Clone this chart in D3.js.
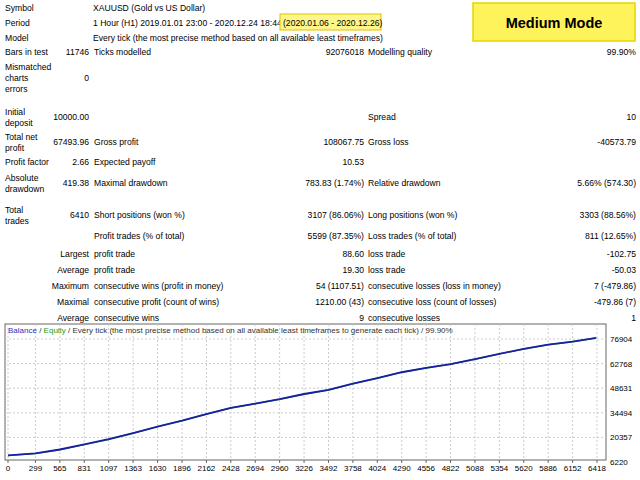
<!DOCTYPE html>
<html><head><meta charset="utf-8">
<script src="https://cdn.jsdelivr.net/npm/d3@7/dist/d3.min.js"></script>
<style>body{margin:0;background:#fff}text{font-family:"Liberation Sans",Arial,sans-serif;font-size:8.6px;fill:#000}</style>
</head><body><svg id="c" width="640" height="480"></svg>
<script>
// ---- data ----
const headerRows = [
  ["Symbol", "XAUUSD (Gold vs US Dollar)"],
  ["Period", "1 Hour (H1) 2019.01.01 23:00 - 2020.12.24 18:44 "],
  ["Model", "Every tick (the most precise method based on all available least timeframes)"]
];
const periodHighlight = "(2020.01.06 - 2020.12.26)";
const modeLabel = "Medium Mode";
// [label lines, value1, label2, value2, label3, value3]
const statRows = [
  [["Bars in test"], "11746", "Ticks modelled", "92076018", "Modelling quality", "99.90%"],
  [["Mismatched","charts","errors"], "0", "", "", "", ""],
  [["Initial","deposit"], "10000.00", "", "", "Spread", "10"],
  [["Total net","profit"], "67493.96", "Gross profit", "108067.75", "Gross loss", "-40573.79"],
  [["Profit factor"], "2.66", "Expected payoff", "10.53", "", ""],
  [["Absolute","drawdown"], "419.38", "Maximal drawdown", "783.83 (1.74%)", "Relative drawdown", "5.66% (574.30)"],
  [["Total","trades"], "6410", "Short positions (won %)", "3107 (86.06%)", "Long positions (won %)", "3303 (88.56%)"],
  [[""], "", "Profit trades (% of total)", "5599 (87.35%)", "Loss trades (% of total)", "811 (12.65%)"],
  [[""], "Largest", "profit trade", "88.60", "loss trade", "-102.75"],
  [[""], "Average", "profit trade", "19.30", "loss trade", "-50.03"],
  [[""], "Maximum", "consecutive wins (profit in money)", "54 (1107.51)", "consecutive losses (loss in money)", "7 (-479.86)"],
  [[""], "Maximal", "consecutive profit (count of wins)", "1210.00 (43)", "consecutive loss (count of losses)", "-479.86 (7)"],
  [[""], "Average", "consecutive wins", "9", "consecutive losses", "1"]
];
const rowCenters = [52, 78, 117, 142, 162, 183, 215, 236, 254, 270, 286, 302, 318];
const tradeIdx = [0,299,565,831,1097,1363,1630,1896,2162,2428,2694,2960,3226,3492,3758,4024,4290,4556,4822,5088,5354,5620,5886,6152,6410];
const balance  = [10000,11200,13400,16300,19300,22800,26600,30000,33800,37300,39800,42300,45300,47700,51200,54400,57800,60300,62500,65300,68400,71200,73700,75400,77494];
const equity   = [10000,11150,13300,16200,19200,22750,26550,29950,33750,37250,39750,42250,45100,47650,51150,54350,57750,60250,62450,65250,68350,71150,73650,75350,77494];
const xTicks = [0,299,565,831,1097,1363,1630,1896,2162,2428,2694,2960,3226,3492,3758,4024,4290,4556,4822,5088,5354,5620,5886,6152,6418];
const yTicks = [6220,20357,34494,48631,62768,76904];
const chartTitle = ["Balance", " / ", "Equity", " / Every tick (the most precise method based on all available least timeframes to generate each tick) / 99.90%"];

const svg = d3.select("#c");
// header
headerRows.forEach((r,i)=>{
  const y = 8 + i*15 + 3;
  svg.append("text").attr("x",5).attr("y",y).text(r[0]);
  svg.append("text").attr("x",93).attr("y",y).text(r[1]);
});
svg.append("rect").attr("x",280).attr("y",14).attr("width",101).attr("height",16).attr("fill","#fff68a").attr("stroke","#e0c000");
svg.append("text").attr("x",283).attr("y",26).text(periodHighlight);
svg.append("rect").attr("x",473).attr("y",3).attr("width",162).attr("height",38).attr("fill","#fff35c").attr("stroke","#e8d400").attr("stroke-width",1.5);
svg.append("text").attr("x",554).attr("y",28).attr("text-anchor","middle").style("font-size","14.5px").style("font-weight","bold").text(modeLabel);

statRows.forEach((r,i)=>{
  const c = rowCenters[i]+3;
  const n = r[0].length;
  r[0].forEach((t,j)=>svg.append("text").attr("x",5).attr("y",c+(j-(n-1)/2)*11).text(t));
  svg.append("text").attr("x",89).attr("y",c).attr("text-anchor","end").text(r[1]);
  svg.append("text").attr("x",94).attr("y",c).text(r[2]);
  svg.append("text").attr("x",364).attr("y",c).attr("text-anchor","end").text(r[3]);
  svg.append("text").attr("x",368).attr("y",c).text(r[4]);
  svg.append("text").attr("x",636).attr("y",c).attr("text-anchor","end").text(r[5]);
});

// chart
const L=5,R=606,T=324,B=460;
const x = d3.scaleLinear().domain([0,6418]).range([8,597]);
const y = d3.scaleLinear().domain([6220,76904]).range([462,339]);
svg.append("rect").attr("x",L).attr("y",T).attr("width",R-L).attr("height",B-T).attr("fill","#fff").attr("stroke","#666");
const g = svg.append("g");
xTicks.forEach(t=>{
  g.append("line").attr("x1",x(t)).attr("x2",x(t)).attr("y1",T).attr("y2",B).attr("stroke","#ccc").attr("stroke-dasharray","2,2");
  g.append("line").attr("x1",x(t)).attr("x2",x(t)).attr("y1",B).attr("y2",B+3).attr("stroke","#666");
  svg.append("text").attr("x",x(t)).attr("y",471).attr("text-anchor","middle").style("font-size","8px").text(t);
});
yTicks.forEach(t=>{
  if (y(t)<B) g.append("line").attr("x1",L).attr("x2",R).attr("y1",y(t)).attr("y2",y(t)).attr("stroke","#ccc").attr("stroke-dasharray","2,2");
  svg.append("text").attr("x",610).attr("y",Math.min(y(t),464)+3).style("font-size","8px").text(t);
});
const line = d3.line().x((d,i)=>x(tradeIdx[i])).y(d=>y(d));
svg.append("path").datum(equity).attr("d",line).attr("fill","none").attr("stroke","#22c022").attr("stroke-width",1.5);
svg.append("path").datum(balance).attr("d",line).attr("fill","none").attr("stroke","#1c1ca8").attr("stroke-width",1.8);
const tt = svg.append("text").attr("x",8).attr("y",333).style("font-size","8px");
const cols=["#3030c0","#333","#20a020","#333"];
chartTitle.forEach((s,i)=>tt.append("tspan").attr("fill",cols[i]).style("fill",cols[i]).text(s));
</script></body></html>
